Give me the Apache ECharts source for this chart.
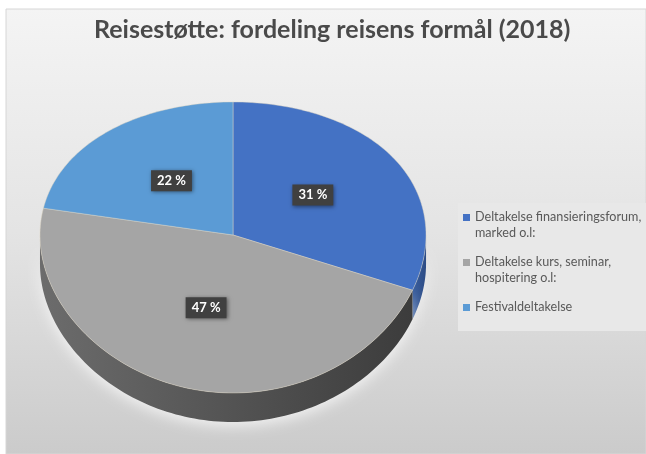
<!DOCTYPE html>
<html>
<head>
<meta charset="utf-8">
<script src="https://cdn.jsdelivr.net/npm/echarts@6/dist/echarts.min.js"></script>
<style>
html,body{margin:0;padding:0;background:#fff;}
#chart{width:646px;height:454px;}
</style>
</head>
<body>
<div id="chart"></div>
<script>
const titleText = 'Reisestøtte: fordeling reisens formål (2018)';
const categories = ['Deltakelse finansieringsforum, marked o.l:', 'Deltakelse kurs, seminar, hospitering o.l:', 'Festivaldeltakelse'];
const legendLabels = ['Deltakelse finansieringsforum,\nmarked o.l:', 'Deltakelse kurs, seminar,\nhospitering o.l:', 'Festivaldeltakelse\n '];
const values = [31, 47, 22];
const topColors = ['#4472C4', '#A5A5A5', '#5B9BD5'];
const sideColors = [['#3a5f9f', '#2d4c85'], ['#6c6c6c', '#3c3c3c'], ['#4a80b3', '#3a6a99']];

const chart = echarts.init(document.getElementById('chart'));

const total = values.reduce((a, b) => a + b, 0);

function renderSlice(params, api) {
  const i = params.seriesIndex;
  const W = api.getWidth(), H = api.getHeight();
  const cx = W * 0.3607, cy = H * 0.5176;
  const rx = W * 0.2988;
  const ryTop = H * 0.293, ryBot = H * 0.348;
  const A = (ryTop + ryBot) / 2, B = (ryBot - ryTop) / 2;
  const depth = H * 0.064;
  function pt(theta, t) {
    const u = Math.sin(theta), v = -Math.cos(theta);
    return [cx + rx * t * u, cy + A * t * v + B * t * t * v * v];
  }
  let before = 0;
  for (let k = 0; k < i; k++) before += values[k];
  const th0 = before / total * Math.PI * 2;
  const th1 = (before + values[i]) / total * Math.PI * 2;
  const steps = Math.max(8, Math.ceil((th1 - th0) * 40));
  const topPts = [[cx, cy]];
  for (let s = 0; s <= steps; s++) topPts.push(pt(th0 + (th1 - th0) * s / steps, 1));
  const children = [];
  const s0 = Math.max(th0, Math.PI / 2), s1 = Math.min(th1, Math.PI * 1.5);
  if (s1 > s0) {
    const n = Math.max(4, Math.ceil((s1 - s0) * 40));
    const up = [], down = [];
    for (let s = 0; s <= n; s++) {
      const p = pt(s0 + (s1 - s0) * s / n, 1);
      up.push(p);
      down.push([p[0], p[1] + depth]);
    }
    children.push({
      type: 'polygon', z2: 1,
      shape: { points: up.concat(down.reverse()) },
      style: {
        fill: new echarts.graphic.LinearGradient(0, 0, 1, 0, [
          { offset: 0, color: sideColors[i][0] },
          { offset: 1, color: sideColors[i][1] }
        ]),
        shadowBlur: 14, shadowColor: 'rgba(255,255,255,0.7)', shadowOffsetY: 4
      }
    });
  }
  children.push({
    type: 'polygon', z2: 10,
    shape: { points: topPts },
    style: { fill: topColors[i], stroke: 'rgba(225,215,195,0.55)', lineWidth: 0.8 }
  });
  const mid = (th0 + th1) / 2;
  const lp = pt(mid, 0.5);
  children.push({
    type: 'text', z2: 20,
    x: lp[0], y: lp[1],
    style: {
      text: values[i] + ' %',
      fill: '#ffffff',
      font: 'bold 13px Lato',
      align: 'center', verticalAlign: 'middle',
      backgroundColor: '#404040',
      padding: [4, 6, 4, 6],
      shadowBlur: 4, shadowColor: 'rgba(0,0,0,0.45)', shadowOffsetX: 1, shadowOffsetY: 1
    }
  });
  return { type: 'group', children: children };
}

const series = categories.map((name, i) => ({
  type: 'custom',
  name: name,
  coordinateSystem: 'none',
  itemStyle: { color: topColors[i] },
  data: [values[i]],
  renderItem: renderSlice,
  silent: true
}));

const option = {
  animation: false,
  backgroundColor: '#ffffff',
  graphic: [
    {
      type: 'rect', z: -10, silent: true,
      shape: { x: 6, y: 9, width: 640, height: 445 },
      style: {
        fill: new echarts.graphic.LinearGradient(0, 0, 0, 1, [
          { offset: 0, color: '#f4f4f4' },
          { offset: 0.5, color: '#e4e4e4' },
          { offset: 1, color: '#cbcbcb' }
        ]),
        stroke: '#d6d6d6', lineWidth: 1
      }
    }
  ],
  title: {
    text: titleText,
    left: 89, top: 12,
    textStyle: { fontFamily: 'Lato', fontWeight: 'bold', fontSize: 25, color: '#4a4a4a' }
  },
  legend: {
    orient: 'vertical',
    left: 458, top: 203,
    padding: [6, 10, 0, 5],
    backgroundColor: '#e8e8e8',
    itemWidth: 7, itemHeight: 22, itemGap: 13,
    icon: 'path://M0,0H7V7H0Z M0,21.99H0.01V22H0Z',
    data: categories,
    formatter: function (name) { return legendLabels[categories.indexOf(name)]; },
    textStyle: { fontFamily: 'Lato', fontSize: 12.6, color: '#595959', lineHeight: 16 }
  },
  series: series
};
chart.setOption(option);
</script>
</body>
</html>
